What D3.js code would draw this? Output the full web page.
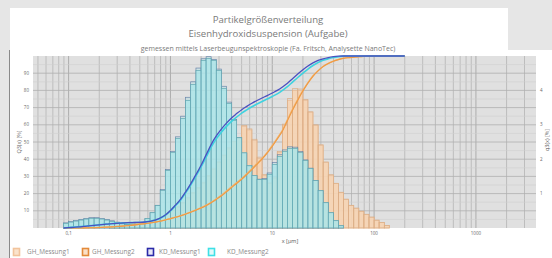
<!DOCTYPE html>
<html><head><meta charset="utf-8">
<script src="https://cdn.jsdelivr.net/npm/d3@7"></script>
<style>body{margin:0;background:#e6e6e6;overflow:hidden}svg{display:block}text{font-family:"Open Sans",sans-serif}</style>
</head><body><svg id="c" width="552" height="258"></svg>
<script>
// channel boundaries (µm)
const sizes = [0.089,0.1,0.112,0.126,0.141,0.158,0.178,0.2,0.224,0.251,0.282,0.316,0.355,0.398,0.447,0.501,0.562,0.631,0.708,0.794,0.891,
  1,1.12,1.26,1.41,1.58,1.78,2,2.24,2.51,2.82,3.16,3.55,3.98,4.47,5.01,5.62,6.31,7.08,7.94,8.91,
  10,11.2,12.6,14.1,15.8,17.8,20,22.4,25.1,28.2,31.6,35.5,39.8,44.7,50.1,56.2,63.1,70.8,79.4,89.1,
  100,112,126,141,158,178,200];
// q3 per channel [%] (right axis)
const ghMessung1 = [0,0,0,0,0,0,0,0,0,
  0.05,0.06,0.08,0.10,0.12,0.14,0.16,0.18,0.22,0.28,0.35,0.45,
  0.5,0.6,0.72,0.85,1.0,1.15,1.3,1.5,1.7,1.9,2.1,2.3,2.5,2.6,
  2.95,2.85,2.54,2.02,1.53,1.29,1.44,2.19,2.98,3.71,4.0,4.0,3.71,3.36,2.98,2.40,1.90,1.53,1.29,1.03,0.83,0.65,0.57,0.48,0.39,0.31,0.22,0.16,0.07,
  0,0,0];
const ghMessung2 = [0,0,0,0,0,0,0,0,0,
  0.04,0.05,0.07,0.09,0.11,0.13,0.15,0.17,0.21,0.27,0.34,0.44,
  0.52,0.62,0.74,0.88,1.03,1.18,1.33,1.52,1.72,1.92,2.12,2.33,2.52,2.62,
  2.98,2.88,2.58,2.06,1.56,1.31,1.46,2.22,3.02,3.76,4.05,4.04,3.74,3.38,3.0,2.42,1.92,1.55,1.30,1.04,0.84,0.66,0.58,0.49,0.40,0.32,0.23,0.16,0.07,
  0,0,0];
const kdMessung1 = [0.15,0.19,0.22,0.25,0.28,0.30,0.30,0.28,0.25,0.21,0.17,0.13,0.11,0.10,0.10,0.12,
  0.27,0.44,0.66,1.12,1.70,2.22,2.65,3.25,3.80,4.25,4.65,
  4.92,4.98,4.90,4.62,4.12,3.66,3.15,2.62,2.17,1.80,1.52,
  1.42,1.44,1.60,1.90,2.13,2.27,2.36,2.35,2.22,1.98,1.74,1.38,1.08,0.73,0.44,0.21,0.06,
  0,0,0,0,0,0,0,0,0,0,0,0];
const kdMessung2 = [0.13,0.17,0.20,0.23,0.26,0.28,0.28,0.26,0.23,0.19,0.15,0.12,0.10,0.10,0.10,0.12,
  0.28,0.45,0.65,1.09,1.67,2.19,2.60,3.18,3.71,4.17,4.58,
  4.87,4.93,4.87,4.58,4.06,3.62,3.13,2.63,2.19,1.82,1.53,
  1.41,1.41,1.56,1.85,2.08,2.22,2.31,2.31,2.19,1.96,1.73,1.38,1.09,0.74,0.45,0.22,0.07,
  0,0,0,0,0,0,0,0,0,0,0,0];
// Q3 cumulative [%] at channel boundaries (left axis)
const ghCum1 = [0,0.02,0.04,0.07,0.1,0.15,0.2,
  0.3,0.45,0.6,0.8,1.0,1.25,1.5,1.85,2.2,2.6,3.0,3.5,4.0,4.7,
  5.5,6.3,7.2,8.2,9.3,10.5,11.8,13.3,15,17,19,21.5,24,26.4,28.8,31.6,34.5,37.5,40.5,44,48,
  52.3,57,63,69,74.8,80,84.5,88.5,91.5,94,95.7,97,98,98.7,99.1,99.4,99.6,99.8,99.9,100,
  100,100,100,100,100,100];
const ghCum2 = [0,0.02,0.04,0.06,0.09,0.13,0.18,
  0.27,0.4,0.55,0.75,0.95,1.2,1.45,1.8,2.15,2.5,2.9,3.4,3.9,4.6,
  5.4,6.2,7.1,8.0,9.1,10.3,11.6,13.0,14.7,16.6,18.6,21.0,23.5,25.9,28.3,31.1,34.0,37.0,40.0,43.5,47.4,
  51.7,56.4,62.4,68.4,74.3,79.6,84.2,88.2,91.3,93.8,95.6,96.9,97.9,98.6,99.0,99.3,99.6,99.8,99.9,100,
  100,100,100,100,100,100];
const kdCum1 = [0,0.2,0.4,0.6,0.9,1.2,1.5,1.8,2.1,2.4,2.6,2.8,3.0,3.1,3.2,3.3,3.5,3.9,4.6,5.8,7.6,
  10.2,13.3,16.8,21,25.7,31,36.5,42.5,48.5,53.5,57.5,61,64,66.5,68.8,70.7,72.5,74.1,75.6,77,78.5,
  80,82,84.2,86.8,89.5,92,94.2,96,97.4,98.4,99.1,99.6,99.9,100,100,100,100,100,100,100,
  100,100,100,100,100,100];
const kdCum2 = [0,0.25,0.5,0.75,1.0,1.3,1.6,1.9,2.2,2.5,2.7,2.9,3.0,3.1,3.2,3.3,3.5,3.9,4.6,5.7,7.4,
  9.9,12.9,16.3,20.4,25,30.2,35.5,41.2,47,51.8,55.7,59.1,62,64.5,66.8,68.7,70.5,72.1,73.6,75,76.5,
  78,80,82.2,84.8,87.5,90,92.4,94.5,96.2,97.5,98.4,99.1,99.6,99.9,100,100,100,100,100,100,
  100,100,100,100,100,100];
const xTicks = [0.1,1,10,100,1000];
const xTickLabels = ["0,1","1","10","100","1000"];
const yLeftTicks = [10,20,30,40,50,60,70,80,90];
const yRightTicks = [1,2,3,4];
const seriesNames = ["GH_Messung1","GH_Messung2","KD_Messung1","KD_Messung2"];
const titleLines = ["Partikelgrößenverteilung","Eisenhydroxidsuspension (Aufgabe)"];
const subtitle = "gemessen mittels Laserbeugunspektroskopie (Fa. Fritsch, Analysette NanoTec)";

const svg = d3.select("#c");
const L=33, R=536, T=56, B=228;
const x = d3.scaleLog().domain([0.0447,3890]).range([L,R]);
const yL = d3.scaleLinear().domain([0,100]).range([B,T]);
const yR = d3.scaleLinear().domain([0,5]).range([B,T]);

// panels
svg.append("rect").attr("x",10).attr("y",8).attr("width",498).attr("height",44).attr("fill","#fff");
svg.append("rect").attr("x",10).attr("y",50).attr("width",542).attr("height",208).attr("fill","#fff");
svg.append("line").attr("x1",9.5).attr("x2",9.5).attr("y1",50).attr("y2",258).attr("stroke","#8a8a8a").attr("stroke-width",1);

// titles
const tg = svg.append("g").attr("fill","#7a7a7a").attr("text-anchor","middle");
tg.append("text").attr("x",268).attr("y",23).attr("font-size",9.6).text(titleLines[0]);
tg.append("text").attr("x",268).attr("y",37).attr("font-size",9.6).text(titleLines[1]);
tg.append("text").attr("x",268).attr("y",51).attr("font-size",7).text(subtitle);

// plot bg + grid
svg.append("rect").attr("x",L).attr("y",T).attr("width",R-L).attr("height",B-T).attr("fill","#e0e0e0");
const g = svg.append("g");
const minor = [];
[0.01,0.1,1,10,100,1000].forEach(d=>{for(let m=1;m<10;m++){const v=d*m; if(v>=0.0447&&v<=3890) minor.push(v);}});
g.selectAll("line.v").data(minor).join("line").attr("x1",d=>x(d)).attr("x2",d=>x(d)).attr("y1",T).attr("y2",B)
  .attr("stroke",d=>xTicks.includes(d)?"#a0a0a0":"#b4b4b4").attr("stroke-width",0.8);
g.selectAll("line.h5").data(d3.range(5,100,10)).join("line").attr("x1",L).attr("x2",R).attr("y1",d=>yL(d)).attr("y2",d=>yL(d))
  .attr("stroke","#cecece").attr("stroke-width",0.6);
g.selectAll("line.h").data(yLeftTicks).join("line").attr("x1",L).attr("x2",R).attr("y1",d=>yL(d)).attr("y2",d=>yL(d))
  .attr("stroke","#b0b0b0").attr("stroke-width",0.8);

// histograms
function bars(vals, fill, fop, stroke){
  const data = vals.map((v,i)=>({x0:sizes[i],x1:sizes[i+1],v})).filter(d=>d.v>0);
  svg.append("g").selectAll("rect").data(data).join("rect")
    .attr("x",d=>x(d.x0)).attr("width",d=>x(d.x1)-x(d.x0))
    .attr("y",d=>yR(d.v)).attr("height",d=>yR(0)-yR(d.v))
    .attr("fill",fill).attr("fill-opacity",fop).attr("stroke",stroke).attr("stroke-width",0.7);
}
bars(ghMessung1,"#f7d6b6",0.9,"#e9bd96");
bars(ghMessung2,"#f2c49a",0.1,"#dcae86");
bars(kdMessung1,"#a6e2e8",0.35,"#6a86aa");
bars(kdMessung2,"#abe6ea",0.75,"#62a8b2");

// cumulative curves
const line = d3.line().x((d,i)=>x(sizes[i])).y(d=>yL(d)).curve(d3.curveMonotoneX);
svg.append("path").attr("d",line(ghCum1)).attr("fill","none").attr("stroke","#f4b36a").attr("stroke-width",1.3);
svg.append("path").attr("d",line(ghCum2)).attr("fill","none").attr("stroke","#ee9a45").attr("stroke-width",1.1);
svg.append("path").attr("d",line(kdCum2)).attr("fill","none").attr("stroke","#3fd2e0").attr("stroke-width",1.6);
svg.append("path").attr("d",line(kdCum1)).attr("fill","none").attr("stroke","#4a50c0").attr("stroke-width",1.3);

// axes labels
const ax = svg.append("g").attr("fill","#666").attr("font-size",4.5);
ax.selectAll("text.xl").data(xTicks).join("text").attr("x",d=>x(d)).attr("y",235).attr("text-anchor","middle").text((d,i)=>xTickLabels[i]);
ax.selectAll("text.yl").data(yLeftTicks).join("text").attr("x",29).attr("y",d=>yL(d)+1.5).attr("text-anchor","end").text(d=>d);
ax.selectAll("text.yr").data(yRightTicks).join("text").attr("x",540).attr("y",d=>yR(d)+1.5).attr("text-anchor","start").text(d=>d);
svg.append("text").attr("transform","translate(21,142) rotate(-90)").attr("text-anchor","middle").attr("font-size",5.5).attr("fill","#666").text("Q3(x) [%]");
svg.append("text").attr("transform","translate(549,140) rotate(-90)").attr("text-anchor","middle").attr("font-size",5.5).attr("fill","#666").text("q3(x) [%]");
svg.append("text").attr("x",290).attr("y",243).attr("text-anchor","middle").attr("font-size",5.5).attr("fill","#555").text("x [µm]");

// legend
const legX = [13,82,147,208], legT=[27,92,159,227];
const legFill = ["#fbe3cc","#fbe0c6","#e6e6f6","#e0fafa"], legStroke=["#f2c49c","#e38a3a","#2a2aa8","#3fe0e6"];
const lg = svg.append("g");
seriesNames.forEach((n,i)=>{
  lg.append("rect").attr("x",legX[i]+0.5).attr("y",248.5).attr("width",6).attr("height",7).attr("fill",legFill[i]).attr("stroke",legStroke[i]).attr("stroke-width",1.6);
  lg.append("text").attr("x",legT[i]).attr("y",254).attr("font-size",6.4).attr("fill","#8a8a8a").text(n);
});
</script></body></html>
